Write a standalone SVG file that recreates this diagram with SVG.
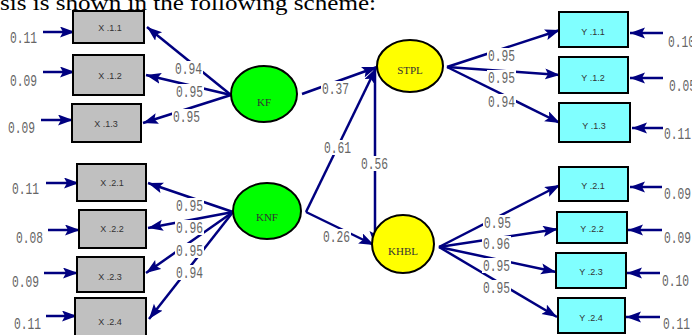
<svg xmlns="http://www.w3.org/2000/svg" width="692" height="335" viewBox="0 0 692 335">
<style>
.bx{fill:#c0c0c0;stroke:#000;stroke-width:2}
.by{fill:#80ffff;stroke:#000;stroke-width:2}
.lg{fill:#00ff00;stroke:#000;stroke-width:2}
.ly{fill:#ffff00;stroke:#000;stroke-width:2}
.bt{font-family:"Liberation Sans",Arial,sans-serif;font-size:9px;fill:#333;text-anchor:middle}
.lt{font-family:"Liberation Serif","Times New Roman",serif;font-size:11px;fill:#333;text-anchor:middle}
.num{font-family:"Liberation Mono","DejaVu Sans Mono",monospace;font-size:16px;fill:#666}
.c line{stroke:#000080;stroke-width:2.5;marker-end:url(#ah)}
.bg{fill:#fff}
</style>
<defs>
<marker id="ah" markerUnits="userSpaceOnUse" markerWidth="16" markerHeight="12" refX="15" refY="5.5" orient="auto">
<path d="M0,0 L15,5.5 L0,11 L3,5.5 z" fill="#000080"/>
</marker>
</defs>
<rect width="692" height="335" fill="#fff"/>
<text x="0" y="10" font-family="Liberation Serif,'Times New Roman',serif" font-size="22" fill="#000" textLength="376" lengthAdjust="spacingAndGlyphs">sis is shown in the following scheme:</text>

<g class="c" id="connectors">
<!-- error arrows left -->
<line x1="43" y1="32" x2="75" y2="32"/>
<line x1="43" y1="72" x2="75" y2="72"/>
<line x1="41" y1="120" x2="73" y2="120"/>
<line x1="46" y1="183" x2="79" y2="183"/>
<line x1="48" y1="230" x2="80" y2="230"/>
<line x1="44" y1="273" x2="78" y2="273"/>
<line x1="46" y1="316" x2="77" y2="316"/>
<!-- error arrows right -->
<line x1="663" y1="33" x2="630" y2="33"/>
<line x1="663" y1="78" x2="630" y2="78"/>
<line x1="663" y1="128" x2="632" y2="128"/>
<line x1="662" y1="187" x2="630" y2="187"/>
<line x1="662" y1="230" x2="628" y2="230"/>
<line x1="660" y1="273" x2="627" y2="273"/>
<line x1="660" y1="317" x2="626" y2="317"/>
<!-- KF loadings -->
<line x1="231" y1="95" x2="147" y2="27"/>
<line x1="231" y1="95" x2="146" y2="75"/>
<line x1="231" y1="95" x2="143" y2="123"/>
<!-- KNF loadings -->
<line x1="233" y1="212" x2="148" y2="183"/>
<line x1="233" y1="212" x2="148" y2="228"/>
<line x1="233" y1="212" x2="146" y2="273"/>
<line x1="233" y1="212" x2="149" y2="319"/>
<!-- structural -->
<line x1="302" y1="94" x2="377" y2="67"/>
<line x1="306" y1="212" x2="376" y2="68"/>
<line x1="306" y1="212" x2="374" y2="245"/>
<line x1="375" y1="68" x2="375" y2="246"/>
<!-- STPL loadings -->
<line x1="447" y1="67" x2="560" y2="30"/>
<line x1="447" y1="67" x2="560" y2="75"/>
<line x1="447" y1="67" x2="560" y2="123"/>
<!-- KHBL loadings -->
<line x1="439" y1="247" x2="560" y2="185"/>
<line x1="439" y1="247" x2="558" y2="229"/>
<line x1="439" y1="247" x2="556" y2="272"/>
<line x1="439" y1="247" x2="557" y2="317"/>
</g>

<g id="labels">
<g class="bg">
<rect x="174" y="61" width="29" height="15"/>
<rect x="175" y="84" width="29" height="15"/>
<rect x="172" y="109" width="29" height="15"/>
<rect x="175" y="198" width="29" height="15"/>
<rect x="175" y="220" width="29" height="15"/>
<rect x="175" y="243" width="29" height="15"/>
<rect x="175" y="265" width="29" height="15"/>
<rect x="321" y="81" width="29" height="15"/>
<rect x="323" y="140" width="29" height="15"/>
<rect x="360" y="156" width="29" height="15"/>
<rect x="322" y="229" width="29" height="15"/>
<rect x="487" y="48" width="29" height="15"/>
<rect x="487" y="70" width="29" height="15"/>
<rect x="487" y="94" width="29" height="15"/>
<rect x="483" y="215" width="29" height="15"/>
<rect x="482" y="236" width="29" height="15"/>
<rect x="482" y="258" width="29" height="15"/>
<rect x="482" y="280" width="29" height="15"/>
</g>
<g class="num">
<text x="10" y="43" textLength="27" lengthAdjust="spacingAndGlyphs">0.11</text>
<text x="10" y="86" textLength="27" lengthAdjust="spacingAndGlyphs">0.09</text>
<text x="8" y="133" textLength="27" lengthAdjust="spacingAndGlyphs">0.09</text>
<text x="12" y="194" textLength="27" lengthAdjust="spacingAndGlyphs">0.11</text>
<text x="16" y="243" textLength="27" lengthAdjust="spacingAndGlyphs">0.08</text>
<text x="12" y="287" textLength="27" lengthAdjust="spacingAndGlyphs">0.09</text>
<text x="14" y="329" textLength="27" lengthAdjust="spacingAndGlyphs">0.11</text>

<text x="175" y="74" textLength="27" lengthAdjust="spacingAndGlyphs">0.94</text>
<text x="176" y="97" textLength="27" lengthAdjust="spacingAndGlyphs">0.95</text>
<text x="173" y="122" textLength="27" lengthAdjust="spacingAndGlyphs">0.95</text>
<text x="176" y="211" textLength="27" lengthAdjust="spacingAndGlyphs">0.95</text>
<text x="176" y="233" textLength="27" lengthAdjust="spacingAndGlyphs">0.96</text>
<text x="176" y="256" textLength="27" lengthAdjust="spacingAndGlyphs">0.95</text>
<text x="176" y="278" textLength="27" lengthAdjust="spacingAndGlyphs">0.94</text>

<text x="322" y="94" textLength="27" lengthAdjust="spacingAndGlyphs">0.37</text>
<text x="324" y="153" textLength="27" lengthAdjust="spacingAndGlyphs">0.61</text>
<text x="361" y="169" textLength="27" lengthAdjust="spacingAndGlyphs">0.56</text>
<text x="323" y="242" textLength="27" lengthAdjust="spacingAndGlyphs">0.26</text>

<text x="488" y="61" textLength="27" lengthAdjust="spacingAndGlyphs">0.95</text>
<text x="488" y="83" textLength="27" lengthAdjust="spacingAndGlyphs">0.95</text>
<text x="488" y="107" textLength="27" lengthAdjust="spacingAndGlyphs">0.94</text>
<text x="484" y="228" textLength="27" lengthAdjust="spacingAndGlyphs">0.95</text>
<text x="483" y="249" textLength="27" lengthAdjust="spacingAndGlyphs">0.96</text>
<text x="483" y="271" textLength="27" lengthAdjust="spacingAndGlyphs">0.95</text>
<text x="483" y="293" textLength="27" lengthAdjust="spacingAndGlyphs">0.95</text>

<text x="668" y="47" textLength="27" lengthAdjust="spacingAndGlyphs">0.10</text>
<text x="669" y="91" textLength="27" lengthAdjust="spacingAndGlyphs">0.05</text>
<text x="664" y="139" textLength="27" lengthAdjust="spacingAndGlyphs">0.11</text>
<text x="664" y="199" textLength="27" lengthAdjust="spacingAndGlyphs">0.09</text>
<text x="664" y="243" textLength="27" lengthAdjust="spacingAndGlyphs">0.09</text>
<text x="662" y="286" textLength="27" lengthAdjust="spacingAndGlyphs">0.10</text>
<text x="663" y="329" textLength="27" lengthAdjust="spacingAndGlyphs">0.11</text>
</g>
</g>

<g id="X11"><rect class="bx" x="73" y="11" width="71" height="32"/><text class="bt" x="110" y="31">X .1.1</text></g>
<g id="X12"><rect class="bx" x="73" y="55" width="71" height="40"/><text class="bt" x="110" y="79">X .1.2</text></g>
<g id="X13"><rect class="bx" x="72" y="104" width="69" height="38"/><text class="bt" x="106" y="127">X .1.3</text></g>
<g id="X21"><rect class="bx" x="77" y="164" width="69" height="37"/><text class="bt" x="112" y="186">X .2.1</text></g>
<g id="X22"><rect class="bx" x="79" y="210" width="67" height="38"/><text class="bt" x="112" y="232">X .2.2</text></g>
<g id="X23"><rect class="bx" x="77" y="257" width="67" height="35"/><text class="bt" x="110" y="280">X .2.3</text></g>
<g id="X24"><rect class="bx" x="75" y="298" width="71" height="40"/><text class="bt" x="110" y="325">X .2.4</text></g>

<g id="KF"><ellipse class="lg" cx="264" cy="94" rx="33" ry="28"/><text class="lt" x="264" y="106">KF</text></g>
<g id="KNF"><ellipse class="lg" cx="267" cy="211" rx="34" ry="28"/><text class="lt" x="267" y="221">KNF</text></g>
<g id="STPL"><ellipse class="ly" cx="410" cy="66" rx="33" ry="26"/><text class="lt" x="410" y="74">STPL</text></g>
<g id="KHBL"><ellipse class="ly" cx="403" cy="244" rx="31" ry="29"/><text class="lt" x="403" y="255">KHBL</text></g>

<g id="Y11"><rect class="by" x="559" y="12" width="69" height="35"/><text class="bt" x="593" y="35">Y .1.1</text></g>
<g id="Y12"><rect class="by" x="559" y="57" width="69" height="36"/><text class="bt" x="593" y="81">Y .1.2</text></g>
<g id="Y13"><rect class="by" x="559" y="103" width="71" height="39"/><text class="bt" x="594" y="129">Y .1.3</text></g>
<g id="Y21"><rect class="by" x="559" y="167" width="69" height="34"/><text class="bt" x="593" y="189">Y .2.1</text></g>
<g id="Y22"><rect class="by" x="557" y="212" width="70" height="31"/><text class="bt" x="592" y="232">Y .2.2</text></g>
<g id="Y23"><rect class="by" x="556" y="253" width="70" height="35"/><text class="bt" x="591" y="275">Y .2.3</text></g>
<g id="Y24"><rect class="by" x="558" y="298" width="67" height="35"/><text class="bt" x="591" y="321">Y .2.4</text></g>
</svg>
